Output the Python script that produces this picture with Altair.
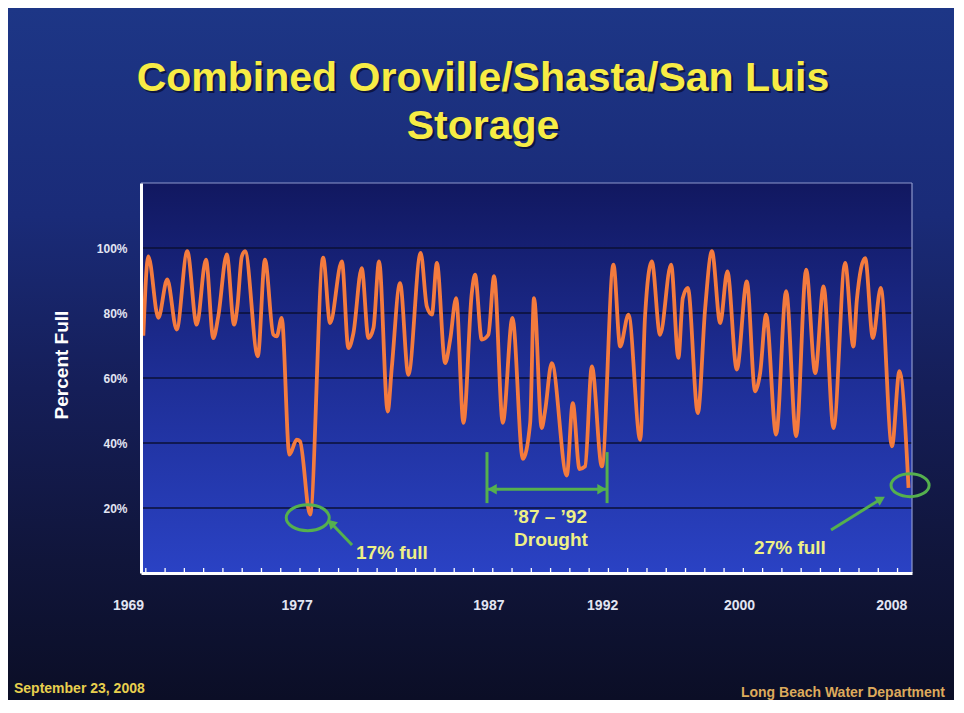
import altair as alt
import pandas as pd

# ---------------- data ----------------
years = [
    1968.87, 1969.13, 1969.65, 1970.11, 1970.60, 1971.15, 1971.64, 1972.12, 1972.50, 1972.76,
    1973.20, 1973.58, 1973.75, 1973.98, 1974.15, 1974.81, 1975.18, 1975.62, 1975.79, 1976.05,
    1976.45, 1976.83, 1977.00, 1977.52, 1978.20, 1978.56, 1979.17, 1979.51, 1979.77, 1980.20,
    1980.55, 1980.81, 1981.10, 1981.55, 1981.76, 1982.19, 1982.62, 1983.26, 1983.58, 1983.84,
    1984.10, 1984.53, 1984.79, 1985.10, 1985.48, 1985.91, 1986.08, 1986.43, 1986.77, 1987.07,
    1987.52, 1988.02, 1988.56, 1988.94, 1989.14, 1989.54, 1989.71, 1990.06, 1990.84, 1991.15,
    1991.50, 1991.79, 1992.14, 1992.66, 1993.26, 1993.61, 1994.04, 1994.65, 1994.90, 1995.25,
    1995.68, 1996.25, 1996.63, 1996.86, 1997.12, 1997.64, 1998.02, 1998.37, 1998.80, 1999.17,
    1999.66, 2000.18, 2000.61, 2000.87, 2001.18, 2001.70, 2002.22, 2002.74, 2003.26, 2003.73,
    2004.16, 2004.68, 2005.28, 2005.71, 2005.89, 2006.32, 2006.72, 2007.13, 2007.71, 2008.10,
    2008.57,
]
pct_full = [
    73.0, 97.4, 78.5, 90.3, 74.9, 99.0, 76.4, 96.4, 72.3, 79.0,
    98.0, 76.4, 82.0, 97.4, 99.0, 66.7, 96.4, 73.3, 72.8, 78.5,
    36.4, 41.0, 40.5, 18.0, 97.0, 76.9, 95.9, 69.2, 73.8, 93.8,
    72.3, 75.4, 95.9, 49.7, 63.1, 89.2, 61.0, 98.5, 82.0, 79.5,
    95.4, 64.6, 71.8, 84.6, 46.2, 86.0, 91.8, 71.8, 73.3, 91.3,
    46.2, 78.5, 35.1, 46.2, 84.6, 44.6, 49.7, 64.6, 30.0, 52.3,
    32.0, 32.8, 63.6, 32.8, 94.9, 69.7, 79.5, 41.0, 79.0, 95.9,
    73.3, 94.9, 66.2, 84.6, 87.7, 49.2, 81.5, 99.0, 76.9, 92.8,
    62.6, 89.7, 55.9, 61.5, 79.5, 42.6, 86.7, 42.1, 93.3, 61.5,
    88.2, 44.6, 95.4, 69.7, 84.1, 96.9, 72.3, 87.7, 39.0, 62.1,
    26.2,
]

grid_pct = [20, 40, 60, 80, 100]
tick_years = list(range(1969, 2009))
xlabel_text = ["1969", "1977", "1987", "1992", "2000", "2008"]
xlabel_year = [1968.1, 1976.85, 1986.8, 1992.7, 1999.8, 2007.7]

ellipse_year = [1977.4, 2008.65]
ellipse_pct = [17.0, 27.0]
ellipse_size = [1850, 1450]

arrow_tail_year = [1979.70, 2004.55]
arrow_tail_pct = [8.6, 13.2]
arrow_head_year = [1978.61, 2007.14]
arrow_head_pct = [15.4, 22.8]
arrow_angle = [314, 60]

bracket_year = [1986.70, 1992.93]
bracket_lo = [21.5, 21.5]
bracket_hi = [37.2, 37.2]
bracket_arrow_pct = 25.8
bracket_head_year = [1986.97, 1992.66]
bracket_head_shape = ["triangle-left", "triangle-right"]

note_text = ["17% full", "\u201987 \u2013 \u201992", "Drought", "27% full"]
note_year = [1981.77, 1989.97, 1990.02, 2002.42]
note_pct = [6.2, 17.2, 10.2, 7.7]

# ---------------- layout / style ----------------
W, H = 771, 390
PAD = {"left": 133, "top": 175, "right": 42, "bottom": 127}
FONT = "Liberation Sans, Arial, sans-serif"
NARROW = "Liberation Sans Narrow, Arial Narrow, Liberation Sans, sans-serif"
LINE_COLOR = "#F47B3E"
GREEN = "#55B04E"
NOTE_COLOR = "#EEF086"
TITLE_COLOR = "#F7EC45"
LABEL_COLOR = "#e2e5f2"

xscale = alt.Scale(domain=[1968.75, 2008.75], nice=False, zero=False)
yscale = alt.Scale(domain=[0, 120], nice=False, zero=False)

XAXIS = alt.Axis(labels=False, ticks=False, grid=False, title=None,
                 domainColor="white", domainWidth=3, zindex=1)
YAXIS = alt.Axis(values=grid_pct, labelExpr="datum.value + '%'", grid=False,
                 ticks=False, title=None, domainColor="white", domainWidth=3,
                 labelFont=FONT, labelFontSize=12, labelFontWeight="bold",
                 labelColor=LABEL_COLOR, labelPadding=14, zindex=1)

one = alt.Data(values=[{"k": 0}])

line_df = pd.DataFrame({"year": years, "pct": pct_full})
grid_df = pd.DataFrame({"pct": grid_pct})
tick_df = pd.DataFrame({"year": tick_years})
xlab_df = pd.DataFrame({"year": xlabel_year, "label": xlabel_text})
ell_df = pd.DataFrame({"year": ellipse_year, "pct": ellipse_pct, "size": ellipse_size})
arr_df = pd.DataFrame({"year": arrow_tail_year, "pct": arrow_tail_pct,
                       "year2": arrow_head_year, "pct2": arrow_head_pct, "ang": arrow_angle})
brk_df = pd.DataFrame({"year": bracket_year, "pct": bracket_lo, "hi": bracket_hi})
brk_h_df = pd.DataFrame({"year": [bracket_year[0]], "year2": [bracket_year[1]],
                         "pct": [bracket_arrow_pct]})
brk_head_df = pd.DataFrame({"year": bracket_head_year, "pct": [bracket_arrow_pct] * 2,
                            "shape": bracket_head_shape})
note_df = pd.DataFrame({"year": note_year, "pct": note_pct, "label": note_text})


def X(field="year"):
    return alt.X(f"{field}:Q", scale=xscale, axis=XAXIS)


def Y(field="pct"):
    return alt.Y(f"{field}:Q", scale=yscale, axis=YAXIS)


def grad(stops):
    return alt.Gradient(gradient="linear", x1=0, x2=0, y1=0, y2=1,
                        stops=[alt.GradientStop(color=c, offset=o) for o, c in stops])


def label(txt, x, y, size, color, align="center", baseline="alphabetic",
          font=FONT, angle=None, opacity=1.0):
    kw = dict(text=txt, font=font, fontSize=size, fontWeight="bold", color=color,
              align=align, baseline=baseline, opacity=opacity)
    if angle is not None:
        kw["angle"] = angle
    return alt.Chart(one).mark_text(**kw).encode(x=alt.value(x), y=alt.value(y))


# slide background
slide_bg = alt.Chart(one).mark_rect(
    color=grad([(0, "#1d3686"), (0.3, "#1a2b78"), (0.55, "#151e58"), (0.8, "#10153a"), (1, "#0b0e26")])
).encode(x=alt.value(-PAD["left"]), x2=alt.value(W + PAD["right"]),
         y=alt.value(-PAD["top"]), y2=alt.value(H + PAD["bottom"]))

# plot background
plot_bg = alt.Chart(one).mark_rect(
    color=grad([(0, "#111860"), (0.5, "#1e2e96"), (1, "#2a42c4")])
).encode(x=alt.value(0), x2=alt.value(W), y=alt.value(0), y2=alt.value(H))

top_border = alt.Chart(one).mark_rule(color="#8e98cc", strokeWidth=1.2).encode(
    x=alt.value(0), x2=alt.value(W), y=alt.value(0))
right_border = alt.Chart(one).mark_rule(color="#8e98cc", strokeWidth=1.2).encode(
    x=alt.value(W), y=alt.value(0), y2=alt.value(H))

grid = alt.Chart(grid_df).mark_rule(color="#0b1036", strokeWidth=1.6).encode(y=Y())

ticks = alt.Chart(tick_df).mark_rule(color="white", strokeWidth=1.3).encode(
    x=X(), y=alt.value(H - 5), y2=alt.value(H + 2))

line = alt.Chart(line_df).mark_line(
    color=LINE_COLOR, strokeWidth=3.8, interpolate="monotone", strokeJoin="round"
).encode(x=X(), y=Y())

xlabels = alt.Chart(xlab_df).mark_text(
    font=FONT, fontSize=14, fontWeight="bold", color=LABEL_COLOR, baseline="middle"
).encode(x=X(), y=alt.value(H + 33), text="label:N")

ELLIPSE = "M -1 0 A 1 0.6 0 1 1 1 0 A 1 0.6 0 1 1 -1 0 Z"
ellipses = alt.Chart(ell_df).mark_point(
    shape=ELLIPSE, filled=False, color=GREEN, strokeWidth=3, opacity=1
).encode(x=X(), y=Y(), size=alt.Size("size:Q", scale=None))

arrow_shafts = alt.Chart(arr_df).mark_rule(color=GREEN, strokeWidth=3).encode(
    x=X(), y=Y(), x2="year2:Q", y2="pct2:Q")
arrow_heads = alt.Chart(arr_df).mark_point(
    shape="triangle-up", filled=True, color=GREEN, size=110, opacity=1
).encode(x=X("year2"), y=Y("pct2"), angle=alt.Angle("ang:Q", scale=None))

brk_v = alt.Chart(brk_df).mark_rule(color=GREEN, strokeWidth=3).encode(
    x=X(), y=Y(), y2="hi:Q")
brk_h = alt.Chart(brk_h_df).mark_rule(color=GREEN, strokeWidth=3).encode(
    x=X(), x2="year2:Q", y=Y())
brk_heads = alt.Chart(brk_head_df).mark_point(
    filled=True, color=GREEN, size=110, opacity=1
).encode(x=X(), y=Y(), shape=alt.Shape("shape:N", scale=None))

notes = alt.Chart(note_df).mark_text(
    font=FONT, fontSize=19, fontWeight="bold", color=NOTE_COLOR, baseline="middle"
).encode(x=X(), y=Y(), text="label:N")

layers = [
    slide_bg, plot_bg, grid, ticks, line,
    top_border, right_border,
    xlabels, ellipses, arrow_shafts, arrow_heads, brk_v, brk_h, brk_heads, notes,
    # title with shadow
    label("Combined Oroville/Shasta/San Luis", 344, -90, 41, "#0a0f35", opacity=0.8),
    label("Combined Oroville/Shasta/San Luis", 342, -92, 41, TITLE_COLOR),
    label("Storage", 344, -42, 41, "#0a0f35", opacity=0.8),
    label("Storage", 342, -44, 41, TITLE_COLOR),
    # y title
    label("Percent Full", -79, 182, 19, "white", baseline="middle", angle=270),
    # footers
    label("September 23, 2008", -127, 510, 14, "#E8CF4E", align="left", font=NARROW),
    label("Long Beach Water Department", 804, 514, 14, "#DDAA5C", align="right", font=NARROW),
]

chart = alt.layer(*layers).properties(
    width=W, height=H, padding=PAD,
    autosize=alt.AutoSizeParams(type="none"),
    background="#0b0e26",
).configure_view(stroke=None)

chart.save("out.html", embed_options={"renderer": "svg", "actions": False})
